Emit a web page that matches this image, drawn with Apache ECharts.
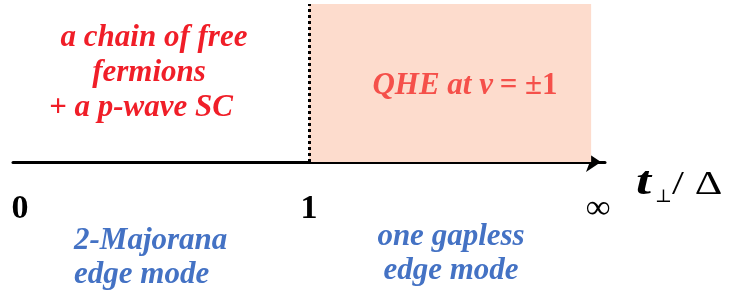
<!DOCTYPE html>
<html>
<head>
<meta charset="utf-8" />
<style>
  html, body { margin: 0; padding: 0; background: #ffffff; }
  #main { width: 730px; height: 297px; }
</style>
</head>
<body>
<div id="main"></div>
<script src="https://cdn.jsdelivr.net/npm/echarts@6.0.0/dist/echarts.min.js"></script>
<script>
// phase boundaries along t_perp / Delta (2 stands for infinity)
var tickValues = [0, 1, 2];
var tickLabels = ['0', '1', '\u221E'];
var qheRange = [1, 1.976];     // shaded QHE phase
var transitionAt = 1;          // dotted line
var axisRange = [-0.024, 2.024];

var serif = '"Liberation Serif", "DejaVu Serif", serif';
var redFont = 'italic bold 31px ' + serif;
var blueFont = 'italic bold 31px ' + serif;

var chart = echarts.init(document.getElementById('main'));

var option = {
  backgroundColor: '#ffffff',
  animation: false,
  grid: { left: 13, right: 125, top: 4, bottom: 135 },
  xAxis: {
    type: 'value',
    min: axisRange[0],
    max: axisRange[1],
    axisLine: {
      show: true,
      lineStyle: { color: '#000', width: 3 },
      symbol: ['none', 'arrow'],
      symbolSize: [15, 15],
      symbolOffset: [0, -4]
    },
    axisTick: { show: false },
    splitLine: { show: false },
    axisLabel: {
      customValues: tickValues,
      margin: 30,
      color: '#000',
      fontFamily: serif,
      fontWeight: 'bold',
      fontSize: 34,
      formatter: function (v) {
        var i = tickValues.indexOf(v);
        return i >= 0 ? tickLabels[i] : '';
      }
    }
  },
  yAxis: {
    type: 'value', min: 0, max: 1, show: false
  },
  series: [{
    type: 'line',
    data: [],
    markArea: {
      silent: true,
      itemStyle: { color: '#FDDCCD' },
      data: [[{ xAxis: qheRange[0], yAxis: 0 }, { xAxis: qheRange[1], yAxis: 1 }]]
    },
    markLine: {
      silent: true,
      symbol: 'none',
      label: { show: false },
      lineStyle: { color: '#000', width: 3, type: [3, 3] },
      data: [[{ coord: [transitionAt, 0] }, { coord: [transitionAt, 1] }]]
    }
  }],
  graphic: [
    {
      type: 'text', x: 154, y: 38, z: 100,
      style: { text: 'a chain of free', font: redFont, fill: '#F01E28', align: 'center', verticalAlign: 'middle' }
    },
    {
      type: 'text', x: 149, y: 73, z: 100,
      style: { text: 'fermions', font: redFont, fill: '#F01E28', align: 'center', verticalAlign: 'middle' }
    },
    {
      type: 'text', x: 141, y: 108, z: 100,
      style: { text: '+ a p-wave SC', font: redFont, fill: '#F01E28', align: 'center', verticalAlign: 'middle' }
    },
    {
      type: 'text', x: 465, y: 86, z: 100,
      style: {
        text: '{i|QHE at \u03BD}  {r|= \u00B11}',
        align: 'center', verticalAlign: 'middle',
        rich: {
          i: { fontStyle: 'italic', fontWeight: 'bold', fontSize: 31, fontFamily: serif, fill: '#F5504A' },
          r: { fontWeight: 'bold', fontSize: 31, fontFamily: serif, fill: '#F5504A' }
        }
      }
    },
    {
      type: 'text', x: 74, y: 224, z: 100,
      style: {
        text: '2-Majorana\nedge mode',
        font: blueFont,
        fill: '#4472C4', align: 'left', verticalAlign: 'top', lineHeight: 34
      }
    },
    {
      type: 'text', x: 451, y: 220, z: 100,
      style: {
        text: 'one gapless\nedge mode',
        font: blueFont,
        fill: '#4472C4', align: 'center', verticalAlign: 'top', lineHeight: 34
      }
    },
    {
      type: 'text', x: 636, y: 204, z: 100, scaleX: 1.35,
      style: { text: 't', font: 'italic bold 40px ' + serif, fill: '#000', align: 'left', verticalAlign: 'bottom' }
    },
    {
      type: 'text', x: 655, y: 206, z: 100,
      style: { text: '\u22A5', font: '18px "DejaVu Serif", serif', fill: '#000', align: 'left', verticalAlign: 'bottom' }
    },
    {
      type: 'text', x: 672, y: 202, z: 100, scaleX: 1.3,
      style: { text: '/ \u0394', font: '33px ' + serif, fill: '#000', align: 'left', verticalAlign: 'bottom' }
    }
  ]
};

chart.setOption(option);
</script>
</body>
</html>
